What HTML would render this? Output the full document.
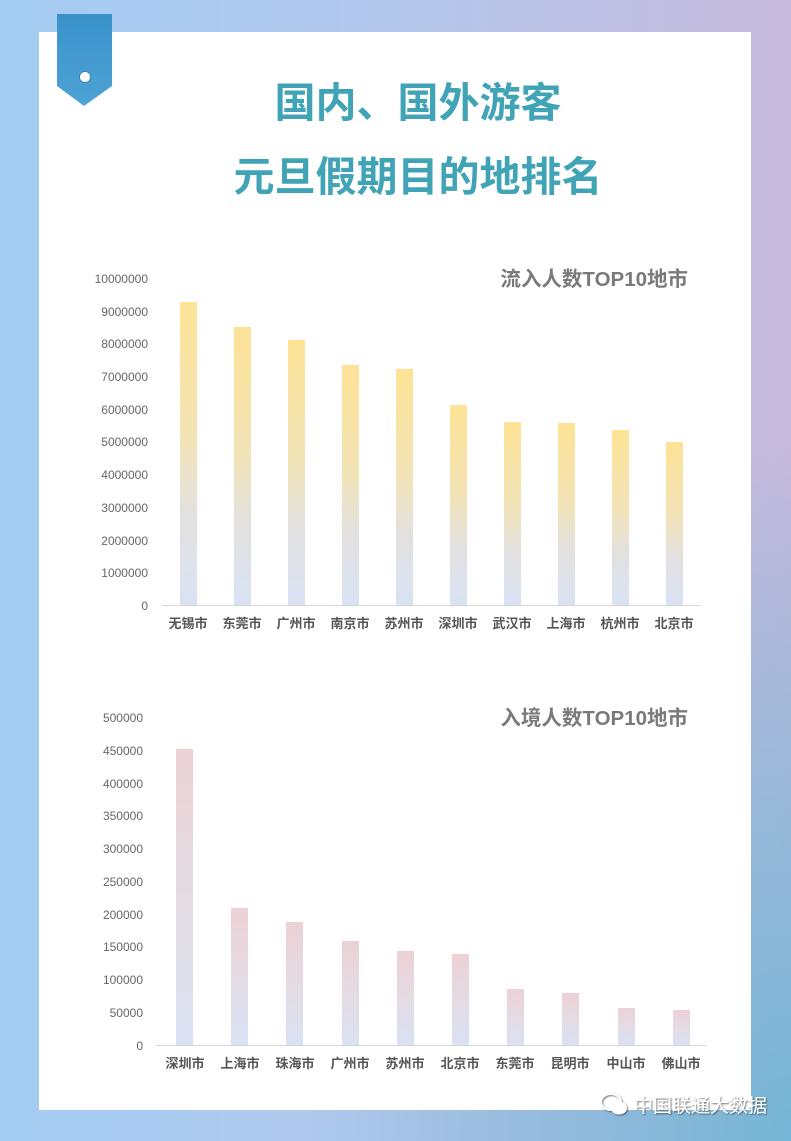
<!DOCTYPE html>
<html><head><meta charset="utf-8">
<style>
html,body{margin:0;padding:0;width:791px;height:1141px;overflow:hidden}
body{background:
 radial-gradient(ellipse 500px 700px at 100% 100%, rgba(118,182,214,1) 0%, rgba(118,182,214,0.6) 45%, rgba(118,182,214,0) 100%),
 linear-gradient(90deg,#a4cdf3 0%,#b2c8ee 45%,#c6b9dc 100%)}
svg{display:block;font-family:"Liberation Sans","Noto Sans CJK SC",sans-serif}
</style></head><body>
<svg width="791" height="1141" viewBox="0 0 791 1141">
<defs>
<linearGradient id="gy" x1="0" y1="0" x2="0" y2="1"><stop offset="0" stop-color="#fde396"/><stop offset="0.45" stop-color="#f2e3b6"/><stop offset="0.7" stop-color="#e3e1df"/><stop offset="1" stop-color="#d9e2f4"/></linearGradient>
<linearGradient id="gp" x1="0" y1="0" x2="0" y2="1"><stop offset="0" stop-color="#ecd1d5"/><stop offset="0.5" stop-color="#e4dbe3"/><stop offset="1" stop-color="#d9e2f4"/></linearGradient>
<linearGradient id="bm" x1="0" y1="0" x2="0" y2="1"><stop offset="0" stop-color="#3a92cc"/><stop offset="1" stop-color="#4ea2d4"/></linearGradient>
<filter id="sh"><feDropShadow dx="1" dy="1" stdDeviation="0.8" flood-color="#333" flood-opacity="0.7"/></filter>
</defs>
<rect x="39" y="32" width="712" height="1078" fill="#fff"/>
<polygon points="57,14 112,14 112,86 84,106 57,86" fill="url(#bm)"/>
<circle cx="85" cy="77" r="5.5" fill="#fff" stroke="#2f7fb3" stroke-width="0.8"/>
<g fill="#41a4b6" font-weight="bold" font-size="41" text-anchor="middle">
<text x="418" y="117">国内、国外游客</text>
<text x="418" y="191">元旦假期目的地排名</text>
</g>
<!-- chart 1 -->
<text x="688" y="286" text-anchor="end" font-size="20.5" font-weight="bold" fill="#7a7a7a">流入人数TOP10地市</text>
<g font-size="12" fill="#666" text-anchor="end">
<text x="148" y="283">10000000</text><text x="148" y="316">9000000</text><text x="148" y="348">8000000</text><text x="148" y="381">7000000</text><text x="148" y="414">6000000</text><text x="148" y="446">5000000</text><text x="148" y="479">4000000</text><text x="148" y="512">3000000</text><text x="148" y="545">2000000</text><text x="148" y="577">1000000</text><text x="148" y="610">0</text>
</g>
<g fill="url(#gy)">
<rect x="180" y="302" width="17" height="303"/><rect x="234" y="327" width="17" height="278"/><rect x="288" y="340" width="17" height="265"/><rect x="342" y="365" width="17" height="240"/><rect x="396" y="369" width="17" height="236"/><rect x="450" y="405" width="17" height="200"/><rect x="504" y="422" width="17" height="183"/><rect x="558" y="423" width="17" height="182"/><rect x="612" y="430" width="17" height="175"/><rect x="666" y="442" width="17" height="163"/>
</g>
<line x1="162" y1="605.5" x2="701" y2="605.5" stroke="#d6d6d6"/>
<g font-size="13" font-weight="bold" fill="#555" text-anchor="middle">
<text x="188" y="628">无锡市</text><text x="242" y="628">东莞市</text><text x="296" y="628">广州市</text><text x="350" y="628">南京市</text><text x="404" y="628">苏州市</text><text x="458" y="628">深圳市</text><text x="512" y="628">武汉市</text><text x="566" y="628">上海市</text><text x="620" y="628">杭州市</text><text x="674" y="628">北京市</text>
</g>
<!-- chart 2 -->
<text x="688" y="725" text-anchor="end" font-size="20.5" font-weight="bold" fill="#7a7a7a">入境人数TOP10地市</text>
<g font-size="12" fill="#666" text-anchor="end">
<text x="143" y="722">500000</text><text x="143" y="755">450000</text><text x="143" y="788">400000</text><text x="143" y="820">350000</text><text x="143" y="853">300000</text><text x="143" y="886">250000</text><text x="143" y="919">200000</text><text x="143" y="951">150000</text><text x="143" y="984">100000</text><text x="143" y="1017">50000</text><text x="143" y="1050">0</text>
</g>
<g fill="url(#gp)">
<rect x="176" y="749" width="17" height="297"/><rect x="231" y="908" width="17" height="138"/><rect x="286" y="922" width="17" height="124"/><rect x="342" y="941" width="17" height="105"/><rect x="397" y="951" width="17" height="95"/><rect x="452" y="954" width="17" height="92"/><rect x="507" y="989" width="17" height="57"/><rect x="562" y="993" width="17" height="53"/><rect x="618" y="1008" width="17" height="38"/><rect x="673" y="1010" width="17" height="36"/>
</g>
<line x1="156" y1="1045.5" x2="706" y2="1045.5" stroke="#d6d6d6"/>
<g font-size="13" font-weight="bold" fill="#555" text-anchor="middle">
<text x="185" y="1068">深圳市</text><text x="240" y="1068">上海市</text><text x="295" y="1068">珠海市</text><text x="350" y="1068">广州市</text><text x="405" y="1068">苏州市</text><text x="460" y="1068">北京市</text><text x="515" y="1068">东莞市</text><text x="570" y="1068">昆明市</text><text x="626" y="1068">中山市</text><text x="681" y="1068">佛山市</text>
</g>
<!-- watermark -->
<g filter="url(#sh)">
<ellipse cx="611" cy="1102" rx="10" ry="8" fill="none" stroke="#fff" stroke-width="2"/>
<ellipse cx="619" cy="1108" rx="8" ry="6.5" fill="#fff"/>
<text x="634" y="1112" font-size="19" fill="#fff">中国联通大数据</text>
</g>
</svg>
</body></html>
